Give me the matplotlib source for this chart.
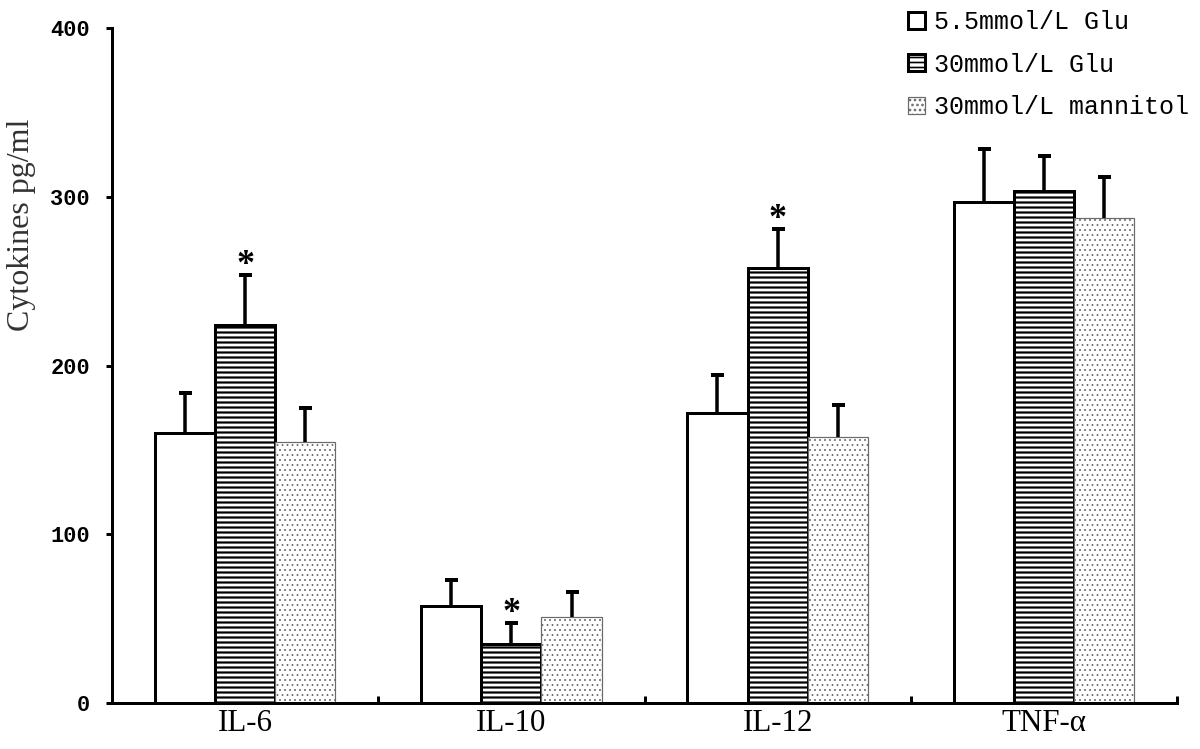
import numpy as np
import matplotlib
matplotlib.use("Agg")
import matplotlib.pyplot as plt
from matplotlib.patches import Patch

categories = ['IL-6', 'IL-10', 'IL-12', 'TNF-α']
series_names = ['5.5mmol/L Glu', '30mmol/L Glu', '30mmol/L mannitol']
glu55 = [160, 57.5, 172, 297]
glu55_err = [23.7, 15.4, 22.5, 31.4]
glu30 = [224, 34.8, 258, 303.4]
glu30_err = [29.6, 12.4, 23.0, 20.7]
mann = [154.7, 51, 157.6, 287.4]
mann_err = [20, 14.8, 19, 24.3]
significant = [True, True, True, False]  # 30mmol/L Glu vs control
yticks = [0, 100, 200, 300, 400]

DPI = 120
def P(px):
    return px * 72.0 / DPI

fig = plt.figure(figsize=(1200 / DPI, 749 / DPI), dpi=DPI)
ax = fig.add_axes([112 / 1200, 46 / 749, 1065 / 1200, 675 / 749])

x = np.arange(len(categories)) + 0.5
w = 0.226

styles = [
    dict(facecolor='white', edgecolor='black', linewidth=P(3), hatch=None, hlw=P(2)),
    dict(facecolor='white', edgecolor='black', linewidth=P(3), hatch='----', hlw=P(2.2)),
    dict(facecolor='white', edgecolor='#6a6a6a', linewidth=P(1.2), hatch='....', hlw=P(0.9)),
]
data = [(glu55, glu55_err), (glu30, glu30_err), (mann, mann_err)]
offsets = [-w, 0, w]

for (vals, errs), off, st in zip(data, offsets, styles):
    with plt.rc_context({'hatch.linewidth': st['hlw']}):
        bars = ax.bar(x + off, vals, width=w, facecolor=st['facecolor'],
                      edgecolor=st['edgecolor'], linewidth=st['linewidth'],
                      hatch=st['hatch'], zorder=2)
        for b in bars:
            if hasattr(b, 'set_hatch_linewidth'):
                b.set_hatch_linewidth(st['hlw'])
    tops = np.array(vals) + np.array(errs)
    ax.vlines(x + off, vals, tops, colors='black', linewidth=P(3.5), zorder=3)
    ax.plot(x + off, tops, linestyle='none', marker='_', markersize=P(13),
            markeredgewidth=P(4), color='black', zorder=3)

# significance markers
for xi, v, e, s in zip(x, glu30, glu30_err, significant):
    if s:
        ax.annotate('*', xy=(xi, v + e), xytext=(0, 1), textcoords='offset pixels',
                    ha='center', va='baseline', fontsize=P(36),
                    family='Liberation Serif', fontweight='bold')

ax.set_xlim(0, 4)
ax.set_ylim(0, 400)
ax.spines['top'].set_visible(False)
ax.spines['right'].set_visible(False)
ax.spines['left'].set_linewidth(P(3))
ax.spines['bottom'].set_linewidth(P(3))
ax.spines['bottom'].set_zorder(4)

ax.set_yticks(yticks)
ax.set_yticklabels([str(t) for t in yticks], family='Liberation Mono',
                   fontweight='bold', fontsize=P(22))
ax.tick_params(axis='y', direction='out', length=P(6), width=P(3), pad=P(16))

ax.set_xticks(x)
ax.set_xticklabels(categories, family='Liberation Serif', fontsize=P(31))
ax.tick_params(axis='x', which='major', length=0, pad=P(6))
ax.set_xticks([1, 2, 3, 4], minor=True)
ax.tick_params(axis='x', which='minor', direction='in', length=P(7), width=P(3))

fig.text(22 / 1200, 1 - 225 / 749, 'Cytokines pg/ml', rotation=90,
         ha='center', va='center', family='Liberation Serif',
         fontsize=P(32), color='#333333')

handles = []
for st, name in zip(styles, series_names):
    with plt.rc_context({'hatch.linewidth': st['hlw']}):
        h = Patch(facecolor=st['facecolor'], edgecolor=st['edgecolor'],
                  linewidth=st['linewidth'], hatch=st['hatch'], label=name)
    handles.append(h)
fig.legend(handles=handles, loc='upper left', bbox_to_anchor=(908 / 1200, 1 - 10 / 749),
           frameon=False, borderpad=0, borderaxespad=0,
           prop={'family': 'Liberation Mono', 'size': P(25)},
           handlelength=0.68, handleheight=0.68, handletextpad=0.38,
           labelspacing=0.74)

fig.savefig('out.png', dpi=DPI)
